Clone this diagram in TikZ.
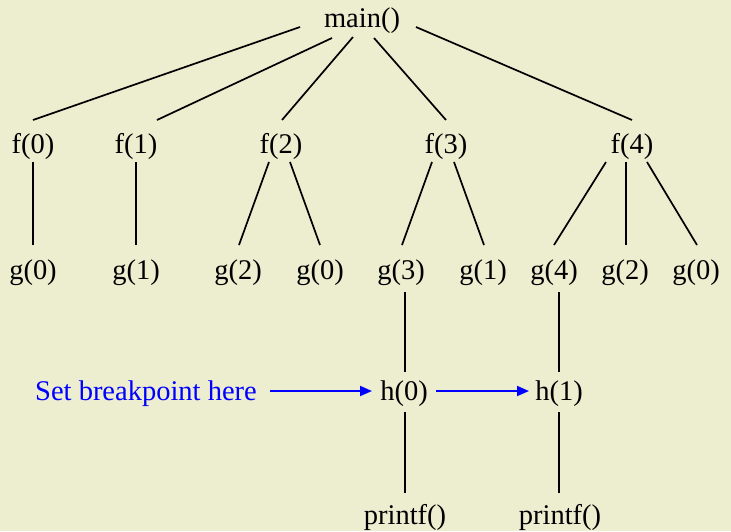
\documentclass[tikz,border=0pt]{standalone}
\usepackage{fontspec}
\setmainfont{Liberation Serif}
\usetikzlibrary{calc,arrows.meta}
\definecolor{bgc}{RGB}{237,237,208}
\definecolor{bpblue}{RGB}{0,0,255}
\begin{document}
\begin{tikzpicture}[x=1pt,y=1pt,
  lbl/.style={anchor=base,inner sep=0pt,font=\fontsize{28.5}{31}\selectfont},
  edge/.style={line width=1.7pt,black},
  bparrow/.style={line width=1.8pt,bpblue,-{Triangle[length=12pt,width=10pt]}}]
\fill[bgc] (0,0) rectangle (731,-531);
\useasboundingbox (0,0) rectangle (731,-531);
% nodes
\node[lbl] (main) at (362,-27) {main()};
\node[lbl] (f0) at (33,-153) {f(0)};
\node[lbl] (f1) at (136,-153) {f(1)};
\node[lbl] (f2) at (281,-153) {f(2)};
\node[lbl] (f3) at (446,-153) {f(3)};
\node[lbl] (f4) at (632,-153) {f(4)};
\node[lbl] (g0) at (33,-279) {g(0)};
\node[lbl] (g1) at (136,-279) {g(1)};
\node[lbl] (g2) at (238,-279) {g(2)};
\node[lbl] (g0b) at (320,-279) {g(0)};
\node[lbl] (g3) at (401,-279) {g(3)};
\node[lbl] (g1b) at (483,-279) {g(1)};
\node[lbl] (g4) at (554,-279) {g(4)};
\node[lbl] (g2b) at (625,-279) {g(2)};
\node[lbl] (g0c) at (696,-279) {g(0)};
\node[lbl,text=bpblue] (bp) at (146,-400) {Set breakpoint here};
\node[lbl] (h0) at (404,-400) {h(0)};
\node[lbl] (h1) at (559,-400) {h(1)};
\node[lbl] (p0) at (405,-524) {printf()};
\node[lbl] (p1) at (560,-524) {printf()};
% main -> f
\draw[edge] ($(main.base)+(-62,0)$) -- ($(f0.base)+(0,33)$);
\draw[edge] ($(main.base)+(-30,-11)$) -- ($(f1.base)+(21,33)$);
\draw[edge] ($(main.base)+(-9,-10)$) -- ($(f2.base)+(1,33)$);
\draw[edge] ($(main.base)+(12,-11)$) -- ($(f3.base)+(0,33)$);
\draw[edge] ($(main.base)+(54,0)$) -- ($(f4.base)+(0,33)$);
% f -> g
\draw[edge] ($(f0.base)+(0,-9)$) -- ($(g0.base)+(0,34)$);
\draw[edge] ($(f1.base)+(0,-9)$) -- ($(g1.base)+(0,34)$);
\draw[edge] ($(f2.base)+(-12,-9)$) -- ($(g2.base)+(1,34)$);
\draw[edge] ($(f2.base)+(9,-9)$) -- ($(g0b.base)+(0,34)$);
\draw[edge] ($(f3.base)+(-14,-9)$) -- ($(g3.base)+(1,34)$);
\draw[edge] ($(f3.base)+(8,-9)$) -- ($(g1b.base)+(1,34)$);
\draw[edge] ($(f4.base)+(-26,-9)$) -- ($(g4.base)+(0,34)$);
\draw[edge] ($(f4.base)+(-6,-9)$) -- ($(g2b.base)+(1,34)$);
\draw[edge] ($(f4.base)+(15,-9)$) -- ($(g0c.base)+(1,34)$);
% g -> h
\draw[edge] ($(g3.base)+(4,-13)$) -- ($(h0.base)+(1,28)$);
\draw[edge] ($(g4.base)+(5,-13)$) -- ($(h1.base)+(0,28)$);
% h -> printf
\draw[edge] ($(h0.base)+(1,-12)$) -- ($(p0.base)+(0,31)$);
\draw[edge] ($(h1.base)+(0,-12)$) -- ($(p1.base)+(-1,31)$);
% arrows
\draw[bparrow] ($(bp.base)+(124,9)$) -- ($(h0.base)+(-32,9)$);
\draw[bparrow] ($(h0.base)+(32,9)$) -- ($(h1.base)+(-30,9)$);
\end{tikzpicture}
\end{document}
